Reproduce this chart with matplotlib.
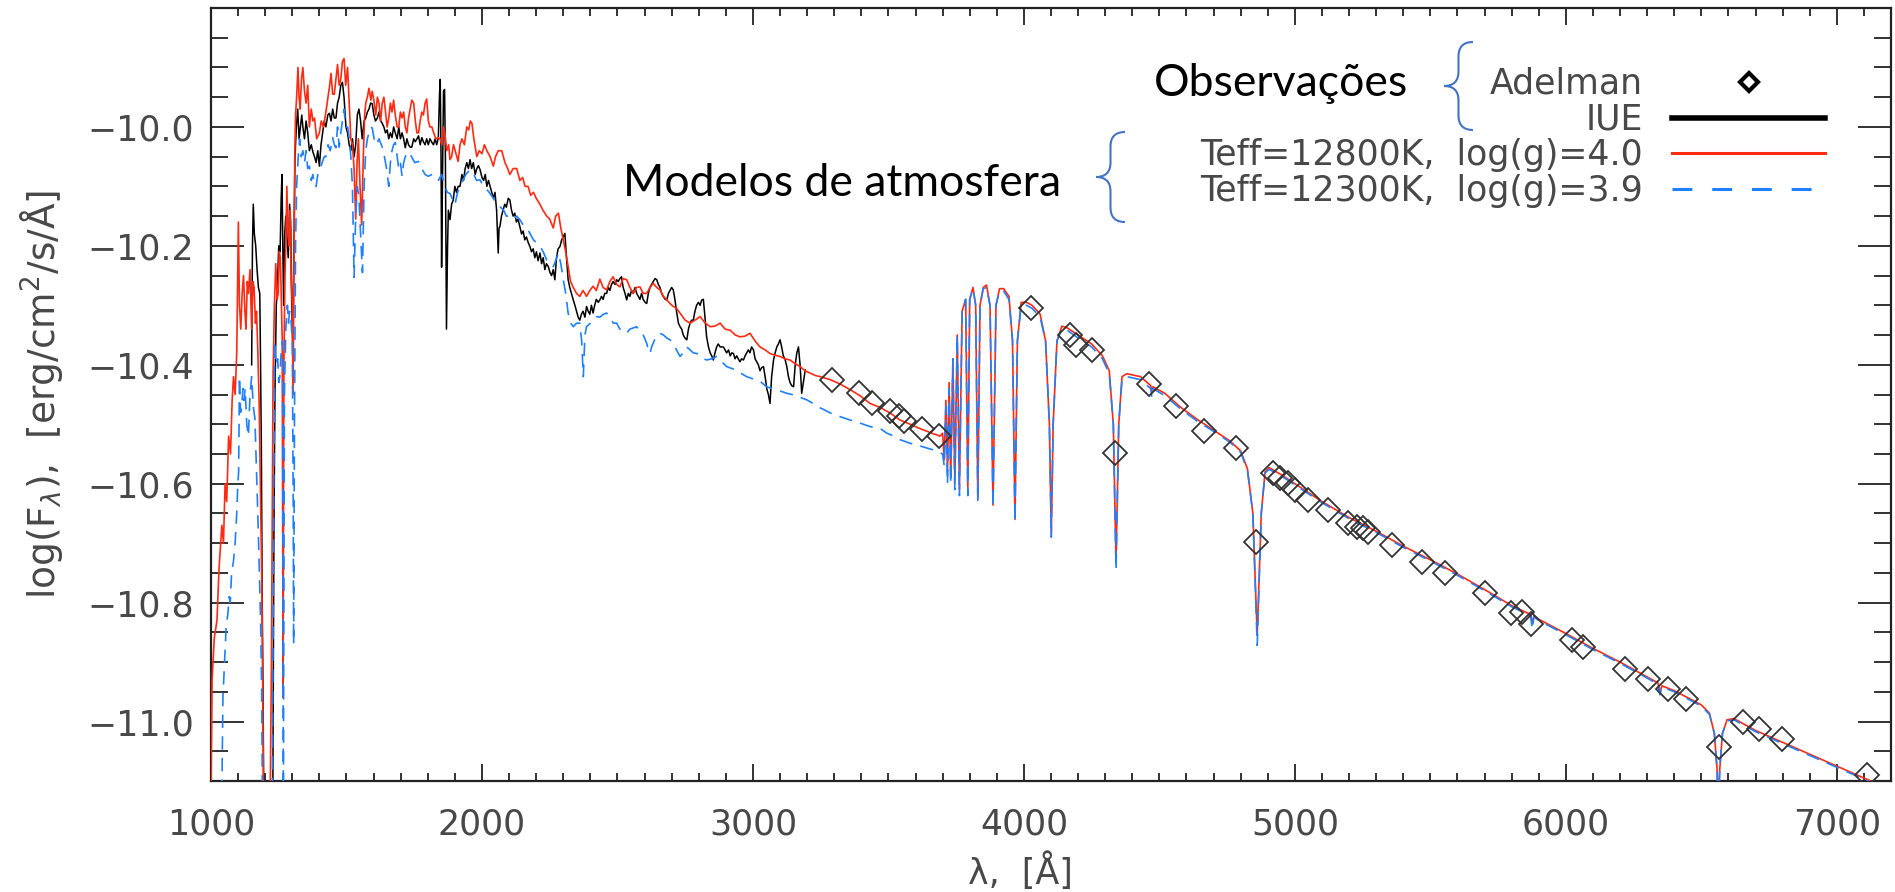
import matplotlib
matplotlib.use("Agg")
import matplotlib.pyplot as plt
from matplotlib.lines import Line2D
from matplotlib.path import Path
from matplotlib.patches import PathPatch
from matplotlib.ticker import MultipleLocator, FixedLocator, FuncFormatter

# ---- data: (wavelength [A], log flux) ----
adelman = [(3290, -10.425), (3390, -10.447), (3440, -10.464), (3505, -10.478), (3538, -10.486),
           (3558, -10.494), (3625, -10.508), (3686, -10.520), (4028, -10.305), (4170, -10.350),
           (4194, -10.367), (4250, -10.375), (4336, -10.548), (4460, -10.432), (4560, -10.470),
           (4665, -10.512), (4782, -10.540), (4858, -10.698), (4920, -10.582), (4945, -10.591),
           (4975, -10.599), (5000, -10.610), (5049, -10.627), (5123, -10.644), (5197, -10.666),
           (5228, -10.672), (5252, -10.675), (5271, -10.681), (5357, -10.703), (5468, -10.731),
           (5554, -10.751), (5700, -10.784), (5796, -10.818), (5840, -10.815), (5873, -10.836),
           (6021, -10.863), (6064, -10.874), (6218, -10.912), (6302, -10.929), (6378, -10.946),
           (6443, -10.962), (6566, -11.042), (6652, -11.000), (6713, -11.013), (6796, -11.030),
           (7110, -11.090)]

iue = [(1150, -10.40), (1153, -10.20), (1156, -10.13), (1160, -10.18), (1165, -10.20), (1170, -10.24),
       (1175, -10.27), (1180, -10.28), (1183, -10.40), (1186, -10.55), (1189, -10.80), (1192, -10.95),
       (1195, -11.15), (1228, -11.15), (1232, -10.70), (1236, -10.45), (1241, -10.30), (1245, -10.27),
       (1250, -10.20), (1255, -10.21), (1259, -10.12), (1262, -10.08), (1265, -10.20), (1268, -10.30),
       (1272, -10.18), (1276, -10.15), (1280, -10.18), (1285, -10.22), (1290, -10.13), (1294, -10.16),
       (1298, -10.30), (1302, -10.38), (1306, -10.20), (1310, -10.05), (1315, -10.00), (1320, -9.97),
       (1325, -10.02), (1330, -10.00), (1335, -9.98), (1339, -10.00), (1345, -10.02), (1351, -9.99),
       (1357, -10.01), (1363, -10.04), (1370, -10.03), (1376, -10.042), (1382, -10.05), (1388, -10.06),
       (1394, -10.04), (1400, -10.066), (1406, -10.03), (1412, -10.01), (1418, -9.99), (1424, -10.00),
       (1431, -9.98), (1437, -9.977), (1443, -9.99), (1449, -9.97), (1455, -9.985), (1461, -9.985),
       (1467, -9.96), (1473, -9.95), (1479, -9.93), (1485, -9.925), (1491, -9.95), (1498, -10.00),
       (1504, -10.01), (1510, -10.03), (1516, -10.04), (1522, -10.02), (1528, -10.05), (1534, -10.03),
       (1540, -9.98), (1546, -9.97), (1552, -9.99), (1558, -10.02), (1565, -9.99), (1571, -9.985),
       (1577, -9.975), (1583, -9.97), (1589, -9.96), (1595, -9.961), (1601, -9.98), (1607, -9.99),
       (1614, -9.985), (1620, -9.975), (1626, -9.99), (1632, -9.994), (1638, -10.00), (1644, -10.01),
       (1650, -10.005), (1656, -10.02), (1662, -10.01), (1668, -10.018), (1674, -10.00), (1680, -10.01),
       (1687, -10.02), (1693, -10.00), (1699, -10.02), (1705, -10.01), (1711, -10.02), (1717, -10.035),
       (1723, -10.02), (1729, -10.03), (1735, -10.034), (1741, -10.034), (1748, -10.02), (1754, -10.025),
       (1760, -10.02), (1766, -10.015), (1772, -10.03), (1778, -10.018), (1784, -10.025), (1790, -10.03),
       (1796, -10.02), (1802, -10.03), (1808, -10.02), (1815, -10.026), (1821, -10.03), (1827, -10.02),
       (1833, -10.03), (1839, -10.018), (1843, -9.95), (1846, -9.92), (1849, -10.05), (1851, -10.236),
       (1854, -10.10), (1858, -9.94), (1862, -9.937), (1865, -10.05), (1869, -10.34), (1873, -10.20),
       (1876, -10.14), (1882, -10.156), (1888, -10.13), (1894, -10.123), (1900, -10.10), (1906, -10.11),
       (1912, -10.10), (1919, -10.10), (1926, -10.08), (1932, -10.09), (1938, -10.07), (1944, -10.06),
       (1950, -10.07), (1956, -10.055), (1962, -10.07), (1968, -10.06), (1975, -10.08), (1981, -10.07),
       (1987, -10.065), (1993, -10.072), (2000, -10.085), (2006, -10.09), (2012, -10.08), (2018, -10.10),
       (2024, -10.09), (2030, -10.10), (2036, -10.11), (2042, -10.12), (2048, -10.11), (2054, -10.14),
       (2060, -10.212), (2063, -10.17), (2066, -10.168), (2072, -10.15), (2078, -10.14), (2084, -10.13),
       (2090, -10.135), (2097, -10.12), (2103, -10.123), (2109, -10.14), (2115, -10.15), (2121, -10.145),
       (2127, -10.16), (2133, -10.155), (2140, -10.168), (2146, -10.18), (2152, -10.175), (2158, -10.19),
       (2164, -10.185), (2171, -10.195), (2177, -10.201), (2183, -10.21), (2189, -10.205), (2195, -10.22),
       (2201, -10.21), (2207, -10.225), (2214, -10.212), (2220, -10.23), (2226, -10.22), (2232, -10.24),
       (2238, -10.23), (2245, -10.235), (2251, -10.245), (2257, -10.25), (2263, -10.24), (2269, -10.257),
       (2275, -10.22), (2281, -10.205), (2288, -10.201), (2294, -10.19), (2300, -10.185), (2306, -10.179),
       (2312, -10.22), (2318, -10.257), (2324, -10.27), (2330, -10.28), (2337, -10.291), (2343, -10.30),
       (2349, -10.31), (2355, -10.32), (2361, -10.325), (2367, -10.315), (2373, -10.31), (2380, -10.32),
       (2386, -10.302), (2392, -10.31), (2398, -10.315), (2404, -10.30), (2410, -10.313), (2416, -10.30),
       (2422, -10.29), (2429, -10.295), (2435, -10.291), (2441, -10.285), (2447, -10.29), (2453, -10.28),
       (2460, -10.28), (2466, -10.27), (2472, -10.275), (2478, -10.265), (2484, -10.26), (2491, -10.265),
       (2497, -10.257), (2503, -10.26), (2509, -10.255), (2515, -10.252), (2521, -10.27), (2528, -10.28),
       (2534, -10.291), (2540, -10.28), (2546, -10.285), (2552, -10.275), (2558, -10.28), (2565, -10.27),
       (2571, -10.28), (2577, -10.285), (2583, -10.29), (2589, -10.28), (2595, -10.29), (2602, -10.295),
       (2608, -10.297), (2614, -10.28), (2620, -10.27), (2626, -10.265), (2632, -10.26), (2639, -10.255),
       (2645, -10.257), (2651, -10.265), (2657, -10.27), (2663, -10.28), (2669, -10.285), (2676, -10.29),
       (2682, -10.291), (2688, -10.28), (2694, -10.275), (2700, -10.27), (2706, -10.274), (2712, -10.29),
       (2718, -10.31), (2725, -10.33), (2731, -10.336), (2737, -10.34), (2743, -10.35), (2749, -10.355),
       (2756, -10.358), (2762, -10.34), (2768, -10.33), (2774, -10.325), (2780, -10.325), (2786, -10.31),
       (2792, -10.30), (2799, -10.295), (2805, -10.30), (2811, -10.291), (2817, -10.29), (2823, -10.32),
       (2829, -10.353), (2836, -10.37), (2842, -10.38), (2848, -10.385), (2854, -10.392), (2860, -10.38),
       (2866, -10.37), (2872, -10.365), (2879, -10.37), (2885, -10.37), (2891, -10.37), (2897, -10.375),
       (2903, -10.38), (2910, -10.375), (2916, -10.385), (2922, -10.38), (2928, -10.381), (2934, -10.39),
       (2940, -10.385), (2946, -10.39), (2952, -10.395), (2958, -10.39), (2965, -10.392), (2971, -10.385),
       (2977, -10.38), (2983, -10.375), (2989, -10.38), (2995, -10.37), (3002, -10.375), (3008, -10.39),
       (3014, -10.395), (3020, -10.40), (3026, -10.41), (3032, -10.405), (3039, -10.403), (3045, -10.42),
       (3051, -10.44), (3057, -10.45), (3063, -10.465), (3069, -10.42), (3076, -10.392), (3082, -10.38),
       (3088, -10.37), (3094, -10.365), (3100, -10.358), (3106, -10.37), (3112, -10.385), (3118, -10.39),
       (3125, -10.403), (3131, -10.42), (3137, -10.43), (3143, -10.435), (3150, -10.437), (3156, -10.40),
       (3162, -10.38), (3168, -10.37), (3174, -10.40), (3180, -10.448), (3186, -10.43), (3193, -10.409)]

red_uv = [(1000, -11.12), (1004, -10.93), (1012, -10.86), (1022, -10.83), (1030, -10.74), (1040, -10.67),
          (1046, -10.70), (1052, -10.60), (1058, -10.63), (1065, -10.52), (1072, -10.55), (1078, -10.46),
          (1083, -10.42), (1089, -10.45), (1095, -10.38), (1101, -10.16), (1105, -10.30), (1110, -10.34),
          (1115, -10.28), (1120, -10.25), (1125, -10.31), (1129, -10.34), (1134, -10.26), (1138, -10.28),
          (1144, -10.24), (1150, -10.34), (1155, -10.26), (1159, -10.27), (1164, -10.33), (1168, -10.31),
          (1173, -10.38), (1178, -10.47), (1183, -10.62), (1187, -10.75), (1191, -10.95), (1194, -11.15),
          (1218, -11.15), (1223, -10.90), (1229, -10.42), (1234, -10.30), (1239, -10.23), (1244, -10.29),
          (1248, -10.28), (1252, -10.21), (1256, -10.22), (1260, -10.30), (1263, -10.36), (1266, -10.96),
          (1269, -10.40), (1273, -10.25), (1276, -10.20), (1280, -10.10), (1284, -10.18), (1288, -10.20),
          (1292, -10.14), (1296, -10.26), (1300, -10.30), (1303, -10.45), (1306, -10.25), (1309, -10.05),
          (1312, -9.98), (1316, -9.95), (1321, -9.90), (1325, -9.95), (1329, -9.97), (1334, -9.92),
          (1339, -9.90), (1345, -9.94), (1351, -9.96), (1357, -9.93), (1363, -10.00), (1370, -9.97),
          (1376, -9.99), (1382, -9.985), (1390, -10.02), (1400, -10.01), (1407, -9.99), (1415, -10.00),
          (1424, -9.975), (1432, -9.95), (1438, -9.93), (1443, -9.91), (1449, -9.945), (1455, -9.945),
          (1461, -9.92), (1467, -9.895), (1473, -9.93), (1479, -9.92), (1485, -9.89), (1491, -9.885),
          (1497, -9.93), (1504, -9.90), (1510, -9.96), (1516, -10.02), (1522, -10.03), (1528, -10.07),
          (1534, -10.155), (1539, -10.06), (1544, -10.02), (1550, -10.10), (1556, -10.165), (1562, -10.05),
          (1567, -9.98), (1571, -9.96), (1577, -9.95), (1583, -9.935), (1590, -9.955), (1595, -9.94),
          (1601, -9.955), (1608, -9.98), (1614, -9.95), (1620, -9.96), (1626, -9.99), (1632, -9.96),
          (1638, -9.95), (1644, -9.975), (1650, -10.00), (1656, -9.985), (1662, -9.96), (1668, -9.975),
          (1674, -9.955), (1680, -9.98), (1687, -10.00), (1693, -10.00), (1699, -9.975), (1705, -9.985),
          (1711, -9.975), (1717, -10.00), (1723, -10.01), (1729, -9.985), (1735, -9.97), (1741, -9.955),
          (1748, -9.96), (1754, -9.99), (1760, -10.01), (1766, -10.01), (1772, -9.99), (1778, -9.975),
          (1784, -9.98), (1790, -9.96), (1796, -9.953), (1802, -9.99), (1808, -10.00), (1815, -10.00),
          (1822, -10.01), (1830, -10.02), (1839, -10.018), (1845, -10.02), (1852, -10.03), (1858, -10.00),
          (1863, -10.01), (1870, -10.04), (1877, -10.03), (1882, -10.055), (1888, -10.05), (1895, -10.03),
          (1901, -10.04), (1912, -10.058), (1919, -10.03), (1926, -10.02), (1935, -10.03), (1944, -10.00),
          (1951, -10.005), (1957, -9.99), (1963, -9.994), (1970, -10.02), (1981, -10.05), (1990, -10.04),
          (2000, -10.045), (2009, -10.03), (2018, -10.04), (2030, -10.05), (2042, -10.066), (2050, -10.05),
          (2060, -10.04), (2073, -10.04), (2085, -10.06), (2095, -10.07), (2103, -10.08), (2115, -10.07),
          (2128, -10.07), (2140, -10.09), (2150, -10.085), (2159, -10.10), (2170, -10.10), (2180, -10.115),
          (2190, -10.11), (2200, -10.12), (2214, -10.13), (2225, -10.14), (2239, -10.15), (2250, -10.155),
          (2263, -10.17), (2272, -10.15), (2282, -10.145), (2291, -10.17), (2300, -10.19), (2309, -10.21),
          (2318, -10.235), (2327, -10.26), (2337, -10.27), (2349, -10.28), (2361, -10.285), (2373, -10.275),
          (2386, -10.285), (2398, -10.275), (2410, -10.268), (2422, -10.275), (2435, -10.256), (2447, -10.27),
          (2460, -10.274), (2472, -10.26), (2484, -10.252), (2497, -10.265), (2509, -10.269), (2521, -10.255),
          (2534, -10.257), (2546, -10.27), (2558, -10.28), (2570, -10.27), (2583, -10.269), (2595, -10.28),
          (2608, -10.28), (2620, -10.27), (2632, -10.263), (2645, -10.27), (2657, -10.274), (2670, -10.285),
          (2682, -10.291), (2694, -10.297), (2706, -10.302), (2718, -10.305), (2731, -10.313), (2750, -10.325),
          (2768, -10.33), (2786, -10.325), (2805, -10.319), (2824, -10.33), (2842, -10.336), (2860, -10.335),
          (2879, -10.33), (2897, -10.34), (2916, -10.342), (2935, -10.35), (2952, -10.353), (2970, -10.352),
          (2989, -10.347), (3008, -10.36), (3026, -10.37), (3045, -10.375), (3063, -10.381), (3081, -10.384),
          (3100, -10.386), (3118, -10.39), (3137, -10.392), (3155, -10.398), (3174, -10.403), (3192, -10.41),
          (3211, -10.414), (3230, -10.418), (3248, -10.42), (3285, -10.425), (3320, -10.432), (3359, -10.442),
          (3395, -10.452), (3432, -10.465), (3470, -10.472), (3506, -10.481), (3543, -10.493), (3580, -10.500),
          (3620, -10.508), (3660, -10.515), (3690, -10.520)]

blue_uv = [(1040, -11.12), (1044, -10.96), (1048, -10.92), (1052, -10.88), (1056, -10.84), (1062, -10.82),
           (1067, -10.79), (1071, -10.80), (1076, -10.75), (1083, -10.73), (1089, -10.70), (1095, -10.65),
           (1099, -10.60), (1102, -10.58), (1105, -10.42), (1109, -10.48), (1113, -10.47), (1118, -10.44),
           (1122, -10.46), (1126, -10.44), (1132, -10.50), (1138, -10.52), (1144, -10.45), (1150, -10.42),
           (1156, -10.47), (1162, -10.49), (1168, -10.58), (1174, -10.67), (1179, -10.76), (1183, -10.83),
           (1187, -10.95), (1190, -11.15), (1226, -11.15), (1230, -10.75), (1235, -10.36), (1240, -10.40),
           (1246, -10.39), (1250, -10.43), (1254, -10.42), (1260, -10.37), (1264, -10.36), (1267, -11.15),
           (1271, -10.45), (1276, -10.34), (1282, -10.30), (1286, -10.33), (1290, -10.31), (1296, -10.33),
           (1300, -10.36), (1303, -10.60), (1305, -10.87), (1308, -10.50), (1312, -10.20), (1316, -10.10),
           (1322, -10.05), (1327, -10.02), (1333, -10.05), (1339, -10.04), (1345, -10.06), (1351, -10.04),
           (1357, -10.07), (1363, -10.066), (1370, -10.09), (1376, -10.08), (1382, -10.10), (1388, -10.10),
           (1394, -10.08), (1400, -10.074), (1410, -10.06), (1418, -10.05), (1424, -10.05), (1432, -10.03),
           (1440, -10.04), (1449, -10.018), (1455, -10.03), (1461, -10.035), (1467, -10.00), (1473, -10.034),
           (1479, -10.01), (1485, -9.99), (1491, -9.97), (1497, -10.00), (1504, -10.00), (1510, -10.018),
           (1516, -10.05), (1522, -10.10), (1528, -10.253), (1534, -10.15), (1540, -10.10), (1546, -10.12),
           (1552, -10.18), (1559, -10.245), (1565, -10.10), (1571, -10.04), (1577, -10.02), (1583, -10.01),
           (1590, -10.00), (1595, -10.002), (1602, -10.02), (1610, -10.03), (1620, -10.02), (1632, -10.034),
           (1640, -10.05), (1648, -10.07), (1656, -10.10), (1662, -10.06), (1668, -10.04), (1674, -10.03),
           (1680, -10.026), (1687, -10.05), (1693, -10.07), (1699, -10.06), (1705, -10.083), (1711, -10.06),
           (1717, -10.05), (1723, -10.045), (1729, -10.042), (1740, -10.05), (1752, -10.06), (1766, -10.058),
           (1778, -10.07), (1790, -10.08), (1802, -10.083), (1815, -10.08), (1827, -10.083), (1839, -10.09),
           (1851, -10.08), (1863, -10.10), (1872, -10.11), (1882, -10.112), (1890, -10.12), (1900, -10.131),
           (1910, -10.11), (1919, -10.10), (1930, -10.09), (1940, -10.08), (1956, -10.072), (1970, -10.08),
           (1980, -10.09), (1993, -10.089), (2005, -10.10), (2018, -10.105), (2030, -10.112), (2042, -10.12),
           (2054, -10.13), (2066, -10.134), (2080, -10.14), (2090, -10.15), (2103, -10.15), (2115, -10.155),
           (2128, -10.15), (2140, -10.156), (2152, -10.165), (2165, -10.17), (2177, -10.179), (2190, -10.19),
           (2202, -10.195), (2214, -10.201), (2226, -10.21), (2239, -10.224), (2251, -10.23), (2263, -10.235),
           (2272, -10.225), (2282, -10.212), (2291, -10.23), (2300, -10.257), (2309, -10.28), (2318, -10.313),
           (2327, -10.33), (2337, -10.336), (2349, -10.33), (2361, -10.33), (2368, -10.36), (2374, -10.42),
           (2380, -10.35), (2386, -10.336), (2400, -10.33), (2410, -10.325), (2423, -10.319), (2435, -10.32),
           (2448, -10.315), (2460, -10.313), (2472, -10.32), (2485, -10.33), (2497, -10.33), (2509, -10.34),
           (2521, -10.345), (2534, -10.347), (2546, -10.34), (2558, -10.338), (2571, -10.336), (2583, -10.345),
           (2595, -10.35), (2608, -10.364), (2614, -10.375), (2620, -10.381), (2626, -10.37), (2640, -10.355),
           (2657, -10.347), (2670, -10.35), (2682, -10.355), (2694, -10.358), (2706, -10.365), (2718, -10.375),
           (2731, -10.386), (2743, -10.38), (2756, -10.37), (2768, -10.375), (2780, -10.38), (2793, -10.381),
           (2810, -10.388), (2829, -10.392), (2848, -10.39), (2866, -10.386), (2885, -10.395), (2903, -10.403),
           (2920, -10.406), (2940, -10.409), (2958, -10.415), (2977, -10.42), (2995, -10.423), (3014, -10.425),
           (3032, -10.43), (3051, -10.437), (3070, -10.44), (3088, -10.442), (3106, -10.445), (3125, -10.448),
           (3144, -10.45), (3162, -10.453), (3180, -10.456), (3199, -10.459), (3218, -10.464), (3236, -10.47),
           (3260, -10.475), (3285, -10.481), (3320, -10.487), (3359, -10.493), (3395, -10.498), (3432, -10.504),
           (3469, -10.507), (3494, -10.515), (3520, -10.52), (3543, -10.526), (3580, -10.532), (3620, -10.537),
           (3664, -10.543), (3690, -10.548)]

# optical part of both models (Balmer jump and lines)
red_opt = [(3700, -10.515), (3706, -10.56), (3712, -10.46), (3718, -10.58), (3724, -10.43), (3730, -10.59),
           (3738, -10.39), (3745, -10.60), (3754, -10.35), (3762, -10.61), (3772, -10.31), (3785, -10.29),
           (3793, -10.61), (3800, -10.29), (3812, -10.27), (3822, -10.30), (3830, -10.625), (3838, -10.30),
           (3850, -10.27), (3862, -10.266), (3875, -10.30), (3886, -10.636), (3897, -10.30), (3910, -10.272),
           (3925, -10.272), (3945, -10.285), (3958, -10.36), (3967, -10.66), (3976, -10.36), (3990, -10.295),
           (4010, -10.295), (4030, -10.30), (4060, -10.315), (4080, -10.36), (4094, -10.50), (4101, -10.685),
           (4108, -10.50), (4122, -10.36), (4140, -10.335), (4160, -10.338), (4200, -10.35), (4250, -10.365),
           (4290, -10.385), (4315, -10.41), (4330, -10.50), (4340, -10.735), (4350, -10.50), (4362, -10.42),
           (4380, -10.415), (4430, -10.42), (4468, -10.435), (4472, -10.445), (4476, -10.437), (4520, -10.448),
           (4580, -10.472), (4640, -10.492), (4700, -10.51), (4760, -10.528), (4800, -10.545), (4825, -10.575),
           (4845, -10.65), (4861, -10.855), (4876, -10.65), (4890, -10.58), (4905, -10.573), (4950, -10.585),
           (5000, -10.60), (5100, -10.63), (5200, -10.657), (5300, -10.68), (5400, -10.705), (5500, -10.728),
           (5600, -10.752), (5700, -10.778), (5800, -10.805), (5870, -10.82), (5876, -10.835), (5882, -10.822),
           (5900, -10.828), (6000, -10.852), (6100, -10.877), (6200, -10.90), (6300, -10.925), (6340, -10.935),
           (6347, -10.95), (6355, -10.94), (6400, -10.948), (6500, -10.972), (6530, -10.986), (6548, -11.02),
           (6558, -11.08), (6563, -11.15), (6568, -11.08), (6578, -11.02), (6595, -10.997), (6620, -10.995),
           (6700, -11.015), (6800, -11.035), (6900, -11.055), (7000, -11.075), (7100, -11.095), (7200, -11.115)]

blue_opt = [(3700, -10.55), (3706, -10.57), (3712, -10.47), (3718, -10.60), (3724, -10.44), (3730, -10.60),
            (3738, -10.39), (3745, -10.61), (3754, -10.35), (3762, -10.62), (3772, -10.31), (3785, -10.29),
            (3793, -10.62), (3800, -10.29), (3812, -10.272), (3822, -10.30), (3830, -10.63), (3838, -10.30),
            (3850, -10.272), (3862, -10.27), (3875, -10.30), (3886, -10.64), (3897, -10.30), (3910, -10.276),
            (3925, -10.276), (3945, -10.29), (3958, -10.36), (3967, -10.665), (3976, -10.36), (3990, -10.30),
            (4010, -10.30), (4030, -10.305), (4060, -10.32), (4080, -10.36), (4094, -10.50), (4101, -10.69),
            (4108, -10.50), (4122, -10.36), (4140, -10.34), (4160, -10.342), (4200, -10.355), (4250, -10.37),
            (4290, -10.39), (4315, -10.415), (4330, -10.50), (4340, -10.745), (4350, -10.50), (4362, -10.425),
            (4380, -10.42), (4430, -10.425), (4468, -10.44), (4472, -10.455), (4476, -10.44), (4520, -10.452),
            (4580, -10.475), (4640, -10.495), (4700, -10.512), (4760, -10.53), (4800, -10.547), (4825, -10.578),
            (4845, -10.65), (4861, -10.872), (4876, -10.65), (4890, -10.582), (4905, -10.576), (4950, -10.587),
            (5000, -10.602), (5100, -10.632), (5200, -10.659), (5300, -10.682), (5400, -10.707), (5500, -10.73),
            (5600, -10.754), (5700, -10.78), (5800, -10.807), (5870, -10.822), (5876, -10.845), (5882, -10.824),
            (5900, -10.83), (6000, -10.854), (6100, -10.879), (6200, -10.902), (6300, -10.927), (6340, -10.937),
            (6347, -10.955), (6355, -10.942), (6400, -10.95), (6500, -10.974), (6530, -10.988), (6548, -11.02),
            (6558, -11.08), (6563, -11.15), (6568, -11.08), (6578, -11.02), (6595, -10.999), (6620, -10.997),
            (6700, -11.017), (6800, -11.037), (6900, -11.057), (7000, -11.077), (7100, -11.097), (7200, -11.117)]

legend_labels = ["Adelman", "IUE", "Teff=12800K,  log(g)=4.0", "Teff=12300K,  log(g)=3.9"]
y_major = [-11.0, -10.8, -10.6, -10.4, -10.2, -10.0]

RED = "#ff2a12"
BLUE = "#1f80ff"
GREY_TXT = "#484848"
BRACE = "#4472c4"
W, H = 1895.0, 892.0

plt.rcParams["font.family"] = ["DejaVu Sans"]

fig = plt.figure(figsize=(W / 100, H / 100), dpi=100)
ax = fig.add_axes([211 / W, 1 - 781 / H, 1680 / W, 773 / H])

ax.plot(*zip(*iue), color="black", lw=1.1, zorder=2)
ax.plot(*zip(*(red_uv + red_opt)), color=RED, lw=1.2, zorder=3)
ax.plot(*zip(*(blue_uv + blue_opt)), color=BLUE, lw=1.2, dashes=(8, 5), zorder=4)
ax.plot(*zip(*adelman), ls="none", marker="D", ms=12.5, mfc="none", mec="#333333", mew=1.3, zorder=5)

ax.set_xlim(1000, 7200)
ax.set_ylim(-11.1, -9.8)
ax.xaxis.set_major_locator(MultipleLocator(1000))
ax.xaxis.set_minor_locator(MultipleLocator(100))
ax.yaxis.set_major_locator(FixedLocator(y_major))
ax.yaxis.set_minor_locator(MultipleLocator(0.05))
ax.yaxis.set_major_formatter(FuncFormatter(lambda v, p: ("%.1f" % v).replace("-", "\u2212")))
ax.tick_params(which="both", direction="in", top=True, right=True, width=1.3, color="#222222",
               labelcolor=GREY_TXT, labelsize=25)
ax.tick_params(axis="x", which="major", length=12, pad=19)
ax.tick_params(axis="x", which="minor", length=6)
ax.tick_params(axis="y", which="major", length=24, pad=12)
ax.tick_params(axis="y", which="minor", length=12)
for s in ax.spines.values():
    s.set_linewidth(1.6)
    s.set_color("#222222")

ax.set_xlabel("λ,  [Å]", fontsize=25, color=GREY_TXT)
ax.xaxis.set_label_coords(0.482, -0.092)
ax.set_ylabel(r"log(F$_\lambda$),  [erg/cm$^2$/s/Å]", fontsize=27, color=GREY_TXT)
ax.yaxis.set_label_coords(-0.087, 0.5)

handles = [Line2D([], [], ls="none", marker="D", ms=9, mfc="none", mec="black", mew=3),
           Line2D([], [], color="black", lw=4),
           Line2D([], [], color=RED, lw=2.2),
           Line2D([], [], color=BLUE, lw=2.2, dashes=(6.5, 6.5))]
leg = ax.legend(handles, legend_labels, loc="upper right", bbox_to_anchor=(1825 / W, 1 - 67 / H),
                bbox_transform=fig.transFigure, frameon=False, markerfirst=False, numpoints=1,
                handlelength=4.4, handletextpad=0.85, labelspacing=0.05, borderpad=0, borderaxespad=0,
                fontsize=25)
for t in leg.get_texts():
    t.set_color(GREY_TXT)

# annotations with curly braces (pixel positions of the original slide)
fig.text(1408 / W, 1 - 84 / H, "Observações", ha="right", va="center", fontsize=32, family="Lato")
fig.text(1061 / W, 1 - 184 / H, "Modelos de atmosfera", ha="right", va="center", fontsize=32, family="Lato")


def brace(x_tip, y_top, y_bot, w):
    xm, xw, ym, r = x_tip + w / 2, x_tip + w, (y_top + y_bot) / 2, w / 2
    pts = [(xw, y_top), (xm, y_top), (xm, y_top + r), (xm, ym - r), (xm, ym), (x_tip, ym),
           (xm, ym), (xm, ym + r), (xm, y_bot - r), (xm, y_bot), (xw, y_bot)]
    codes = [Path.MOVETO, Path.CURVE3, Path.CURVE3, Path.LINETO, Path.CURVE3, Path.CURVE3,
             Path.CURVE3, Path.CURVE3, Path.LINETO, Path.CURVE3, Path.CURVE3]
    verts = [(x / W, 1 - y / H) for x, y in pts]
    fig.add_artist(PathPatch(Path(verts, codes), fc="none", ec=BRACE, lw=1.5, transform=fig.transFigure))


brace(1444, 42, 130, 29)
brace(1096, 132, 222, 29)

fig.savefig("out.png", dpi=100)
